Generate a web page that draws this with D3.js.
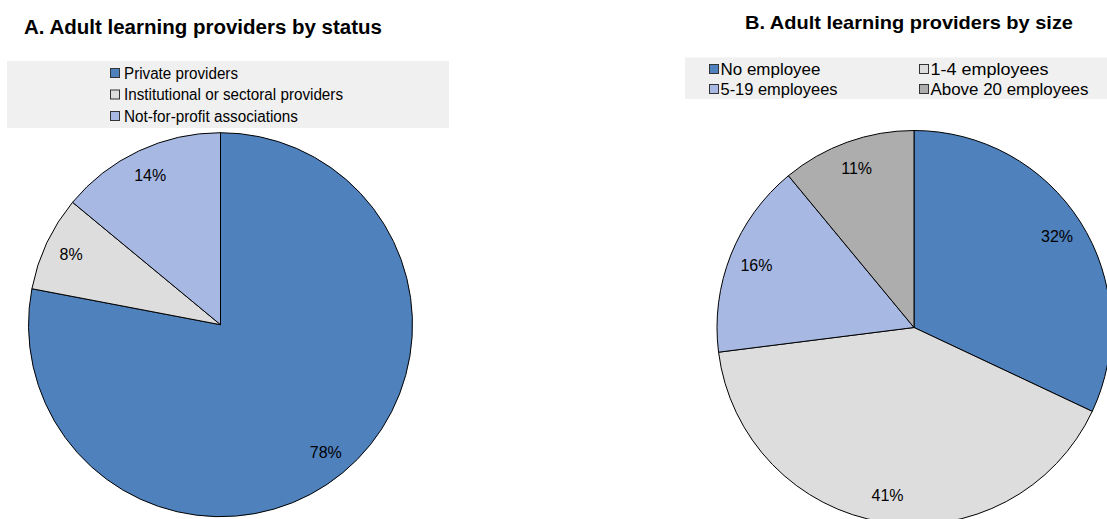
<!DOCTYPE html>
<html>
<head>
<meta charset="utf-8">
<script src="https://cdn.jsdelivr.net/npm/d3@7"></script>
<style>
  html, body { margin: 0; padding: 0; background: #fff; }
  svg { display: block; }
  text { font-family: "Liberation Sans", Arial, sans-serif; fill: #000; }
</style>
</head>
<body>
<svg id="chart" width="1107" height="519"></svg>
<script>
// Panel A: providers by status (percent of providers)
const statusCategories = ["Private providers", "Institutional or sectoral providers", "Not-for-profit associations"];
const statusValues = [78, 8, 14];

// Panel B: providers by size (percent of providers)
const sizeCategories = ["No employee", "1-4 employees", "5-19 employees", "Above 20 employees"];
const sizeValues = [32, 41, 16, 11];

const statusColors = ["#4F81BD", "#DDDDDD", "#A7B9E3"];
const sizeColors = ["#4F81BD", "#DDDDDD", "#A7B9E3", "#ADADAD"];

const svg = d3.select("#chart");

// Fit a text element to a given width by adjusting glyphs horizontally
function fitText(sel, width) {
  sel.attr("textLength", width).attr("lengthAdjust", "spacingAndGlyphs");
  return sel;
}

function drawPie(cfg) {
  const color = d3.scaleOrdinal().domain(cfg.categories).range(cfg.colors);
  const pie = d3.pie().sort(null).value(d => d.value);
  const data = cfg.categories.map((c, i) => ({ name: c, value: cfg.values[i] }));
  const arcs = pie(data);
  const arc = d3.arc().innerRadius(0).outerRadius(cfg.r);
  const labelArc = d3.arc().innerRadius(cfg.r * 0.86).outerRadius(cfg.r * 0.86);

  const g = svg.append("g").attr("transform", `translate(${cfg.cx},${cfg.cy})`);
  g.selectAll("path.slice")
    .data(arcs)
    .join("path")
    .attr("class", "slice")
    .attr("d", arc)
    .attr("fill", d => color(d.data.name))
    .attr("stroke", "#000")
    .attr("stroke-width", 1);

  g.selectAll("text.pct")
    .data(arcs)
    .join("text")
    .attr("class", "pct")
    .attr("transform", d => `translate(${labelArc.centroid(d)})`)
    .attr("dy", "0.36em")
    .attr("text-anchor", "middle")
    .style("font-size", "16px")
    .text(d => d.data.value + "%");
  return color;
}

// ---- Panel A ----
fitText(svg.append("text")
  .attr("x", 24).attr("y", 33.5)
  .style("font-size", "20px").style("font-weight", "bold")
  .text("A. Adult learning providers by status"), 358);

svg.append("rect").attr("x", 7).attr("y", 61).attr("width", 442).attr("height", 67).attr("fill", "#F0F0F0");

const colorA = drawPie({
  categories: statusCategories, values: statusValues, colors: statusColors,
  cx: 220.5, cy: 324.7, r: 192
});

const legendAWidths = [114, 219, 174];
const legA = svg.append("g");
statusCategories.forEach((c, i) => {
  const y = 73 + i * 21.5;
  legA.append("rect").attr("x", 110.5).attr("y", y - 4.5).attr("width", 9).attr("height", 9)
    .attr("fill", colorA(c)).attr("stroke", "#333").attr("stroke-width", 1);
  fitText(legA.append("text").attr("x", 124).attr("y", y).attr("dy", "0.36em")
    .style("font-size", "16px").text(c), legendAWidths[i]);
});

// ---- Panel B ----
fitText(svg.append("text")
  .attr("x", 745).attr("y", 28.5)
  .style("font-size", "19px").style("font-weight", "bold")
  .text("B. Adult learning providers by size"), 328);

svg.append("rect").attr("x", 685).attr("y", 57.5).attr("width", 422).attr("height", 41.5).attr("fill", "#F0F0F0");

const colorB = drawPie({
  categories: sizeCategories, values: sizeValues, colors: sizeColors,
  cx: 914, cy: 327.5, r: 197
});

const legendBWidths = [100, 118, 117, 158];
const legB = svg.append("g");
sizeCategories.forEach((c, i) => {
  const col = i % 2, row = Math.floor(i / 2);
  const x = col === 0 ? 709.5 : 919.5;
  const y = 69 + row * 20;
  legB.append("rect").attr("x", x).attr("y", y - 4.5).attr("width", 9).attr("height", 9)
    .attr("fill", colorB(c)).attr("stroke", "#333").attr("stroke-width", 1);
  fitText(legB.append("text").attr("x", x + 11).attr("y", y).attr("dy", "0.36em")
    .style("font-size", "16.5px").text(c), legendBWidths[i]);
});
</script>
</body>
</html>
